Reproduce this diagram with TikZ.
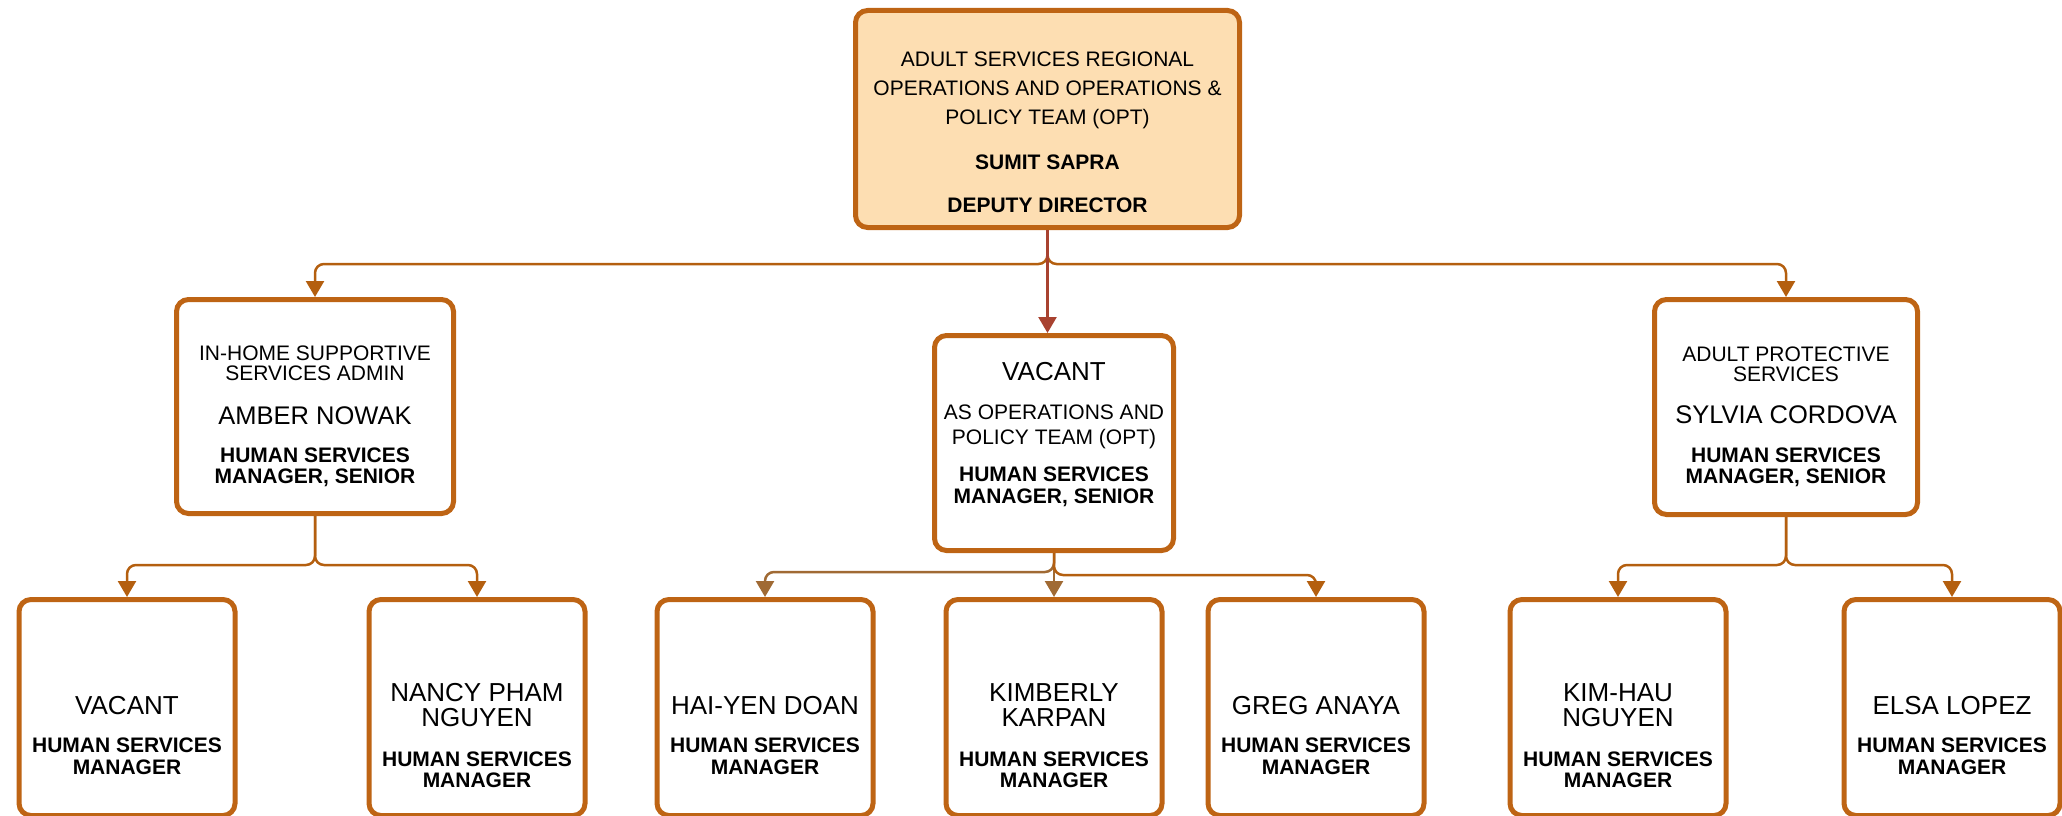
\documentclass[tikz,border=0pt]{standalone}
\usepackage{fontspec}
\setmainfont{Liberation Sans}
\usetikzlibrary{arrows.meta}
\definecolor{boxc}{RGB}{190,100,20}
\definecolor{topfill}{RGB}{253,222,178}
\definecolor{connc}{RGB}{180,95,15}
\definecolor{connred}{RGB}{168,66,48}
\definecolor{conntan}{RGB}{160,106,52}
\begin{document}
\begin{tikzpicture}[x=1pt, y=-1pt,
        box/.style={draw=boxc, line width=5pt, rounded corners=12pt, fill=white, inner sep=0pt},
        bot/.style={box, minimum width=216pt, minimum height=216pt},
        unit/.style={inner sep=0pt, anchor=north, align=center, font=\fontsize{21}{20}\selectfont},
        who/.style={inner sep=0pt, anchor=north, align=center, font=\fontsize{25.5}{25}\selectfont},
        who2/.style={inner sep=0pt, anchor=north, align=center, font=\fontsize{26}{25}\selectfont},
        job/.style={inner sep=0pt, anchor=north, align=center, font=\bfseries\fontsize{21}{21}\selectfont},
        conn/.style={connc, line width=2.5pt, rounded corners=9pt, -{Triangle[width=18pt,length=16pt]}}]
    \useasboundingbox (0,0) rectangle (2062,816);
    \node[box, fill=topfill, minimum width=384pt, minimum height=217pt] (deputy) at (1047.5,119) {};
    \node[unit, font=\fontsize{21}{29}\selectfont] (deputy-unit) at (1047.5,52) {ADULT SERVICES REGIONAL\\OPERATIONS AND OPERATIONS \&\\POLICY TEAM (OPT)};
    \node[job] (deputy-name) at (1047.5,155) {SUMIT SAPRA};
    \node[job] (deputy-job) at (1047.5,198) {DEPUTY DIRECTOR};

    \node[box, minimum width=277pt, minimum height=214pt] (ihss) at (315,406.5) {};
    \node[unit] (ihss-unit) at (315,346) {IN-HOME SUPPORTIVE\\SERVICES ADMIN};
    \node[who] (ihss-name) at (315,406) {AMBER NOWAK};
    \node[job] (ihss-job) at (315,448) {HUMAN SERVICES\\MANAGER, SENIOR};

    \node[box, minimum width=239pt, minimum height=215pt] (opt) at (1054,443) {};
    \node[who2] (opt-name) at (1054,362) {VACANT};
    \node[unit, font=\fontsize{21}{25}\selectfont] (opt-unit) at (1054,405) {AS OPERATIONS AND\\POLICY TEAM (OPT)};
    \node[job, font=\bfseries\fontsize{21}{22}\selectfont] (opt-job) at (1054,467) {HUMAN SERVICES\\MANAGER, SENIOR};

    \node[box, minimum width=263pt, minimum height=215pt] (aps) at (1786,407) {};
    \node[unit] (aps-unit) at (1786,347) {ADULT PROTECTIVE\\SERVICES};
    \node[who] (aps-name) at (1786,405) {SYLVIA CORDOVA};
    \node[job] (aps-job) at (1786,448) {HUMAN SERVICES\\MANAGER, SENIOR};

    \node[bot] (ihssa) at (127,707.5) {};
    \node[bot] (ihssb) at (477,707.5) {};
    \node[bot] (opta) at (765,707.5) {};
    \node[bot] (optb) at (1054,707.5) {};
    \node[bot] (optc) at (1316,707.5) {};
    \node[bot] (apsa) at (1618,707.5) {};
    \node[bot] (apsb) at (1952,707.5) {};

    \node[who2] (ihssa-name) at (127,696) {VACANT};
    \node[job, font=\bfseries\fontsize{21}{22}\selectfont] (ihssa-job) at (127,738) {HUMAN SERVICES\\MANAGER};
    \node[who2] (ihssb-name) at (477,683) {NANCY PHAM\\NGUYEN};
    \node[job] (ihssb-job) at (477,752) {HUMAN SERVICES\\MANAGER};
    \node[who2] (opta-name) at (765,696) {HAI-YEN DOAN};
    \node[job, font=\bfseries\fontsize{21}{22}\selectfont] (opta-job) at (765,738) {HUMAN SERVICES\\MANAGER};
    \node[who2] (optb-name) at (1054,683) {KIMBERLY\\KARPAN};
    \node[job] (optb-job) at (1054,752) {HUMAN SERVICES\\MANAGER};
    \node[who2] (optc-name) at (1316,696) {GREG ANAYA};
    \node[job, font=\bfseries\fontsize{21}{22}\selectfont] (optc-job) at (1316,738) {HUMAN SERVICES\\MANAGER};
    \node[who2] (apsa-name) at (1618,683) {KIM-HAU\\NGUYEN};
    \node[job] (apsa-job) at (1618,752) {HUMAN SERVICES\\MANAGER};
    \node[who2] (apsb-name) at (1952,696) {ELSA LOPEZ};
    \node[job, font=\bfseries\fontsize{21}{22}\selectfont] (apsb-job) at (1952,738) {HUMAN SERVICES\\MANAGER};

    \draw[conn] (deputy.south) -- (deputy.south |- 0,264) -| (ihss.north);
    \draw[conn] (deputy.south) -- (deputy.south |- 0,264) -| (aps.north);
    \draw[conn, connred] (deputy.south) -- (deputy.south |- opt.north);

    \draw[conn] (ihss.south) -- (ihss.south |- 0,565) -| (ihssa.north);
    \draw[conn] (ihss.south) -- (ihss.south |- 0,565) -| (ihssb.north);
    \draw[conn, conntan] (opt.south) -- (opt.south |- 0,572) -| (opta.north);
    \draw[conn, conntan] (opt.south) -- (optb.north);
    \draw[conn] (opt.south) -- (opt.south |- 0,575) -| (optc.north);
    \draw[conn] (aps.south) -- (aps.south |- 0,565) -| (apsa.north);
    \draw[conn] (aps.south) -- (aps.south |- 0,565) -| (apsb.north);
\end{tikzpicture}
\end{document}
